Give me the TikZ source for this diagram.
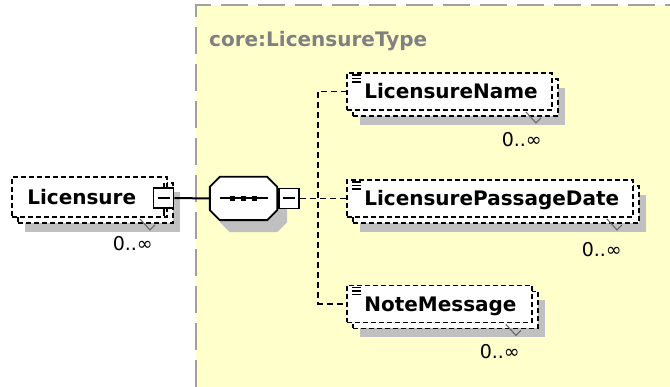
\documentclass[tikz,border=0pt]{standalone}
\usepackage{fontspec}
\setmainfont{DejaVu Sans}
\usetikzlibrary{calc}
\definecolor{bgyellow}{HTML}{FFFFCC}
\definecolor{shadowgray}{HTML}{C0C0C0}
\definecolor{bordergray}{HTML}{A0A0A0}
\definecolor{titlegray}{HTML}{808080}
\newcommand{\seqoct}[3]{%
  \path[#1] ($(#2.north west)+#3+(10,0)$) -- ($(#2.north east)+#3+(-10,0)$)
    -- ($(#2.north east)+#3+(0,10)$) -- ($(#2.south east)+#3+(0,-10)$)
    -- ($(#2.south east)+#3+(-10,0)$) -- ($(#2.south west)+#3+(10,0)$)
    -- ($(#2.south west)+#3+(0,-10)$) -- ($(#2.north west)+#3+(0,10)$) -- cycle;}
\newcommand{\xsdelem}[5]{%
  \coordinate (#1c) at (#2,#3);
  \node[shadowbox, minimum width=#4pt, minimum height=37pt] (#1sh) at ($(#1c)+(13,15)$) {};
  \node[elbox, minimum width=#4pt, minimum height=37pt] (#1bk) at ($(#1c)+(6,6)$) {};
  \node[elbox, minimum width=#4pt, minimum height=37pt] (#1) at (#1c) {};
  \node[eltext] (#1t) at ($(#1.west)+(18,7.5)$) {#5};
  \draw[listicon] ($(#1.north west)+(6,3)$) -- ++(9,0)
                  ($(#1.north west)+(6,6.5)$) -- ++(9,0)
                  ($(#1.north west)+(6,10)$) -- ++(9,0);
  \draw[notch] ($(#1.south east)+(-27,1)$) -- ++(10,11) -- ++(5,-5);}
\begin{document}
\begin{tikzpicture}[x=1pt,y=-1pt,
  bgborder/.style={draw=bordergray, line width=2pt, dash pattern=on 27pt off 10pt},
  shadowbox/.style={rectangle, fill=shadowgray, inner sep=0pt},
  elbox/.style={rectangle, draw=black, fill=white, line width=1.8pt, dash pattern=on 5pt off 3pt, inner sep=0pt},
  eltext/.style={font=\bfseries\fontsize{20}{24}\selectfont, inner sep=0pt, anchor=base west},
  multtext/.style={font=\fontsize{19}{22}\selectfont, inner sep=0pt, anchor=base east},
  titletext/.style={font=\bfseries\fontsize{20}{24}\selectfont, text=titlegray, inner sep=0pt, anchor=base west},
  minusbox/.style={rectangle, draw=black, fill=white, line width=1.9pt, minimum width=20pt, minimum height=20pt, inner sep=0pt},
  conn/.style={draw=black, line width=2pt},
  dconn/.style={draw=black, line width=1.9pt, dash pattern=on 6pt off 4pt},
  notch/.style={draw=black!60, line width=1.1pt},
  listicon/.style={draw=black, line width=1.4pt},
  seqdot/.style={rectangle, fill=black, minimum size=5.5pt, inner sep=0pt},
]
\useasboundingbox (0,0) rectangle (670,387);
\fill[white] (0,0) rectangle (670,387);
\fill[bgyellow] (196,5) rectangle (670,387);
\draw[bgborder] (196,387) -- (196,5) -- (670,5);
\node[titletext] (title) at (209,47) {core:LicensureType};

% Licensure element
\coordinate (licc) at (89.5,197);
\node[shadowbox, minimum width=155pt, minimum height=40pt] (licsh) at ($(licc)+(13,15)$) {};
\node[elbox, minimum width=155pt, minimum height=40pt] (licbk) at ($(licc)+(6,6)$) {};
\node[elbox, minimum width=155pt, minimum height=40pt] (lic) at (licc) {};
\node[eltext] (lict) at ($(lic.west)+(16,7.5)$) {Licensure};
\draw[notch] ($(lic.south east)+(-28,1)$) -- ++(10,11) -- ++(5,-5);
\node[minusbox] (licm) at (163.5,198) {};
\draw[conn] ($(licm.center)+(-6,0)$) -- ($(licm.center)+(6,0)$);
\draw[conn] (licm.north) -- ++(0,-4);
\draw[conn] (licm.south) -- ++(0,7);
\node[multtext] (licmult) at (153,251) {0..∞};

% sequence compositor
\node[inner sep=0pt, minimum width=67pt, minimum height=43pt] (seq) at (243.5,198.5) {};
\seqoct{fill=shadowgray}{seq}{(10,12)}
\seqoct{draw=black, fill=white, line width=1.9pt}{seq}{(0,0)}
\draw[conn] ($(seq.center)+(-23.5,0)$) -- ($(seq.center)+(24.5,0)$);
\node[seqdot] (d1) at ($(seq.center)+(-11,0)$) {};
\node[seqdot] (d2) at (seq.center) {};
\node[seqdot] (d3) at ($(seq.center)+(11,0)$) {};
\node[minusbox] (sm) at (289,198.5) {};
\draw[conn] ($(sm.center)+(-6,0)$) -- ($(sm.center)+(6,0)$);
\draw[conn] (licm.east) -- (seq.west);

% children
\coordinate (j) at (318,198.5);
\draw[dconn] (sm.east) -- (j) -- (j -| 347,0);
\draw[dconn] (347,91.5) -| (j) |- (347,304);
\xsdelem{n1}{449.5}{91.5}{205}{LicensureName}
\xsdelem{n2}{490}{198.5}{286}{LicensurePassageDate}
\xsdelem{n3}{439.5}{304}{185}{NoteMessage}
\node[multtext] (m1) at (542,147) {0..∞};
\node[multtext] (m2) at (622,257) {0..∞};
\node[multtext] (m3) at (520,359) {0..∞};
\end{tikzpicture}
\end{document}
